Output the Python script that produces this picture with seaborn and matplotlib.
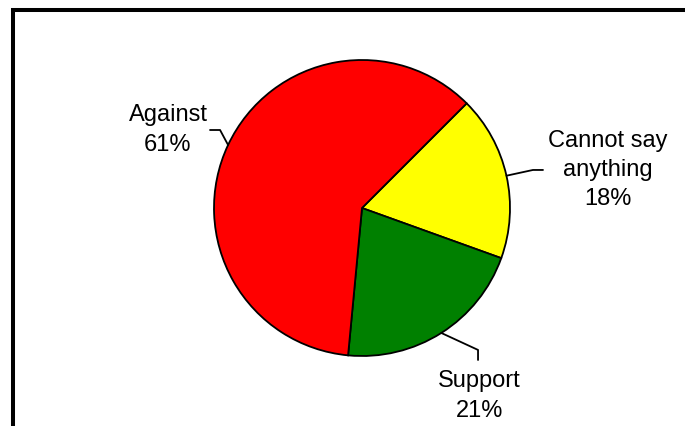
import numpy as np
import matplotlib
matplotlib.use("Agg")
import matplotlib.pyplot as plt
import seaborn as sns
from matplotlib.patches import Rectangle

# data (clockwise order starting at 45 degrees)
labels = ["Cannot say\nanything", "Support", "Against"]
shares = [18, 21, 61]
colors = ["#ffff00", "#008000", "#ff0000"]

# label placement (in pie radius units)
label_pos = [(1.662, 0.257), (0.791, -1.270), (-1.311, 0.527)]
elbow_pos = [(1.155, 0.257), (0.784, -0.959), (-0.959, 0.527)]
end_pos = [(1.223, 0.257), (0.784, -1.027), (-1.027, 0.527)]

sns.set_style("white")
plt.rcParams["font.family"] = ["Liberation Sans", "DejaVu Sans"]

fig = plt.figure(figsize=(6.85, 4.26), dpi=100)
cx, cy, r = 362, 208, 148
ax = fig.add_axes([(cx - r) / 685, (426 - cy - r) / 426, 2 * r / 685, 2 * r / 426])

wedges, _ = ax.pie(shares, colors=colors, startangle=45, counterclock=False,
                   radius=1, wedgeprops=dict(edgecolor="black", linewidth=1.3))
ax.set_xlim(-1, 1)
ax.set_ylim(-1, 1)
ax.set_aspect("equal")
ax.axis("off")

for w, lab, val, tp, ep, np_ in zip(wedges, labels, shares, label_pos, elbow_pos, end_pos):
    mid = np.deg2rad((w.theta1 + w.theta2) / 2)
    ax_pt = (np.cos(mid), np.sin(mid))
    ax.plot([ax_pt[0], ep[0], np_[0]], [ax_pt[1], ep[1], np_[1]],
            color="black", lw=1.3, clip_on=False)
    ax.text(tp[0], tp[1], f"{lab}\n{val}%", ha="center", va="center",
            fontsize=17, linespacing=1.42, color="black", clip_on=False)

# outer border (cropped at right and bottom)
fig.patches.append(Rectangle((13 / 685, -0.2), 1.2, 1 - 9.5 / 426 + 0.2,
                             transform=fig.transFigure, fill=False,
                             edgecolor="black", linewidth=2.9))

fig.savefig("out.png", dpi=100)
